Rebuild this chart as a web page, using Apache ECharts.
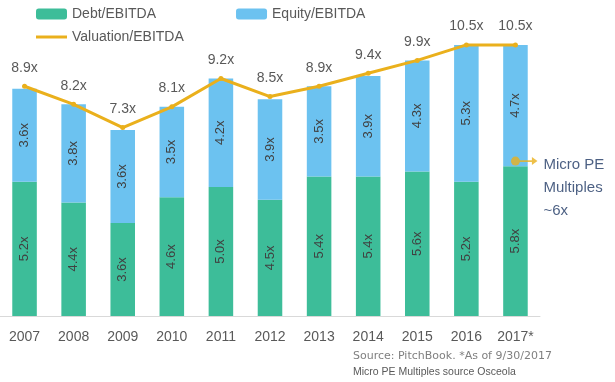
<!DOCTYPE html>
<html>
<head>
<meta charset="utf-8">
<script src="https://cdn.jsdelivr.net/npm/echarts@6/dist/echarts.min.js"></script>
<style>
html,body{margin:0;padding:0;background:#fff;}
#c{width:615px;height:382px;}
</style>
</head>
<body>
<div id="c"></div>
<script>
var categories = ['2007','2008','2009','2010','2011','2012','2013','2014','2015','2016','2017*'];
var debtEbitda = [5.2,4.4,3.6,4.6,5.0,4.5,5.4,5.4,5.6,5.2,5.8];
var equityEbitda = [3.6,3.8,3.6,3.5,4.2,3.9,3.5,3.9,4.3,5.3,4.7];
var valuationEbitda = [8.9,8.2,7.3,8.1,9.2,8.5,8.9,9.4,9.9,10.5,10.5];
var microPE = ['2017*', 6];
var microPELabel = 'Micro PE\nMultiples\n~6x';
var sourceLines = ['Source: PitchBook. *As of 9/30/2017', 'Micro PE Multiples source Osceola'];

var FONT = 'Liberation Sans';
var GREEN = '#3DBD99';
var BLUE = '#6CC2F0';
var GOLD = '#EAB01C';
var TXT = '#595959';

var chart = echarts.init(document.getElementById('c'), null, {renderer:'canvas'});
chart.setOption({
  animation: false,
  textStyle: {fontFamily: FONT},
  title: [
    {text: sourceLines[0], left: 353, top: 351, padding: 0, textStyle:{fontSize:11, fontWeight:'normal', color:'#7F7F7F', fontFamily: 'DejaVu Sans'}},
    {text: sourceLines[1], left: 353, top: 367, padding: 0, textStyle:{fontSize:10.5, fontWeight:'normal', color:'#595959', fontFamily: FONT}}
  ],
  legend: [
    {data:['Debt/EBITDA','Equity/EBITDA'], left: 36, top: 7, padding: 0, itemWidth: 31, itemHeight: 11, itemGap: 80,
     textStyle:{fontSize:14, color:TXT, fontFamily:FONT}},
    {data:[{name:'Valuation/EBITDA', icon:'rect'}], left: 36, top: 30, padding: 0, itemWidth: 31, itemHeight: 3, itemGap: 10,
     textStyle:{fontSize:14, color:TXT, fontFamily:FONT}}
  ],
  grid: {left: -2, width: 542, top: 32, bottom: 66, containLabel: false},
  xAxis: {
    type: 'category', data: categories,
    axisLine: {lineStyle:{color:'#D9D9D9', width:1}},
    axisTick: {show:false},
    axisLabel: {fontSize:14, color:TXT, margin: 14, fontFamily:FONT}
  },
  yAxis: {type:'value', min:0, max:11, show:false, splitLine:{show:false}},
  series: [
    {name:'Debt/EBITDA', type:'bar', stack:'s', data: debtEbitda, barWidth:'50%',
     itemStyle:{color:GREEN},
     label:{show:true, position:'inside', rotate:90, fontSize:13, color:'#404040', fontFamily:FONT,
            formatter:function(p){return p.value.toFixed(1)+'x';}}},
    {name:'Equity/EBITDA', type:'bar', stack:'s', data: equityEbitda, barWidth:'50%',
     itemStyle:{color:BLUE},
     label:{show:true, position:'inside', rotate:90, fontSize:13, color:'#404040', fontFamily:FONT,
            formatter:function(p){return p.value.toFixed(1)+'x';}}},
    {name:'Valuation/EBITDA', type:'line', data: valuationEbitda, z:5,
     lineStyle:{color:GOLD, width:3}, itemStyle:{color:GOLD},
     symbol:'circle', symbolSize:5, showSymbol:true,
     label:{show:true, position:'top', distance:9, fontSize:14, color:TXT, fontFamily:FONT,
            formatter:function(p){return p.value.toFixed(1)+'x';}}},
    {name:'Micro PE', type:'scatter', z:6,
     itemStyle:{color:GOLD},
     data: [
       {value: microPE, symbol:'circle', symbolSize:9, label:{show:false}},
       {value: microPE, symbol:'path://M0,4 L18,4 L18,0 L26,5 L18,10 L18,6 L0,6 Z',
        symbolSize:[18,8], symbolOffset:[13,0], symbolKeepAspect:false,
        label:{show:true, position:'right', distance: 2, offset:[4,27], align:'left',
               fontSize:15, lineHeight:23, color:'#1F3864', fontFamily:FONT,
               formatter:function(){return microPELabel;}}}
     ]}
  ]
});
</script>
</body>
</html>
